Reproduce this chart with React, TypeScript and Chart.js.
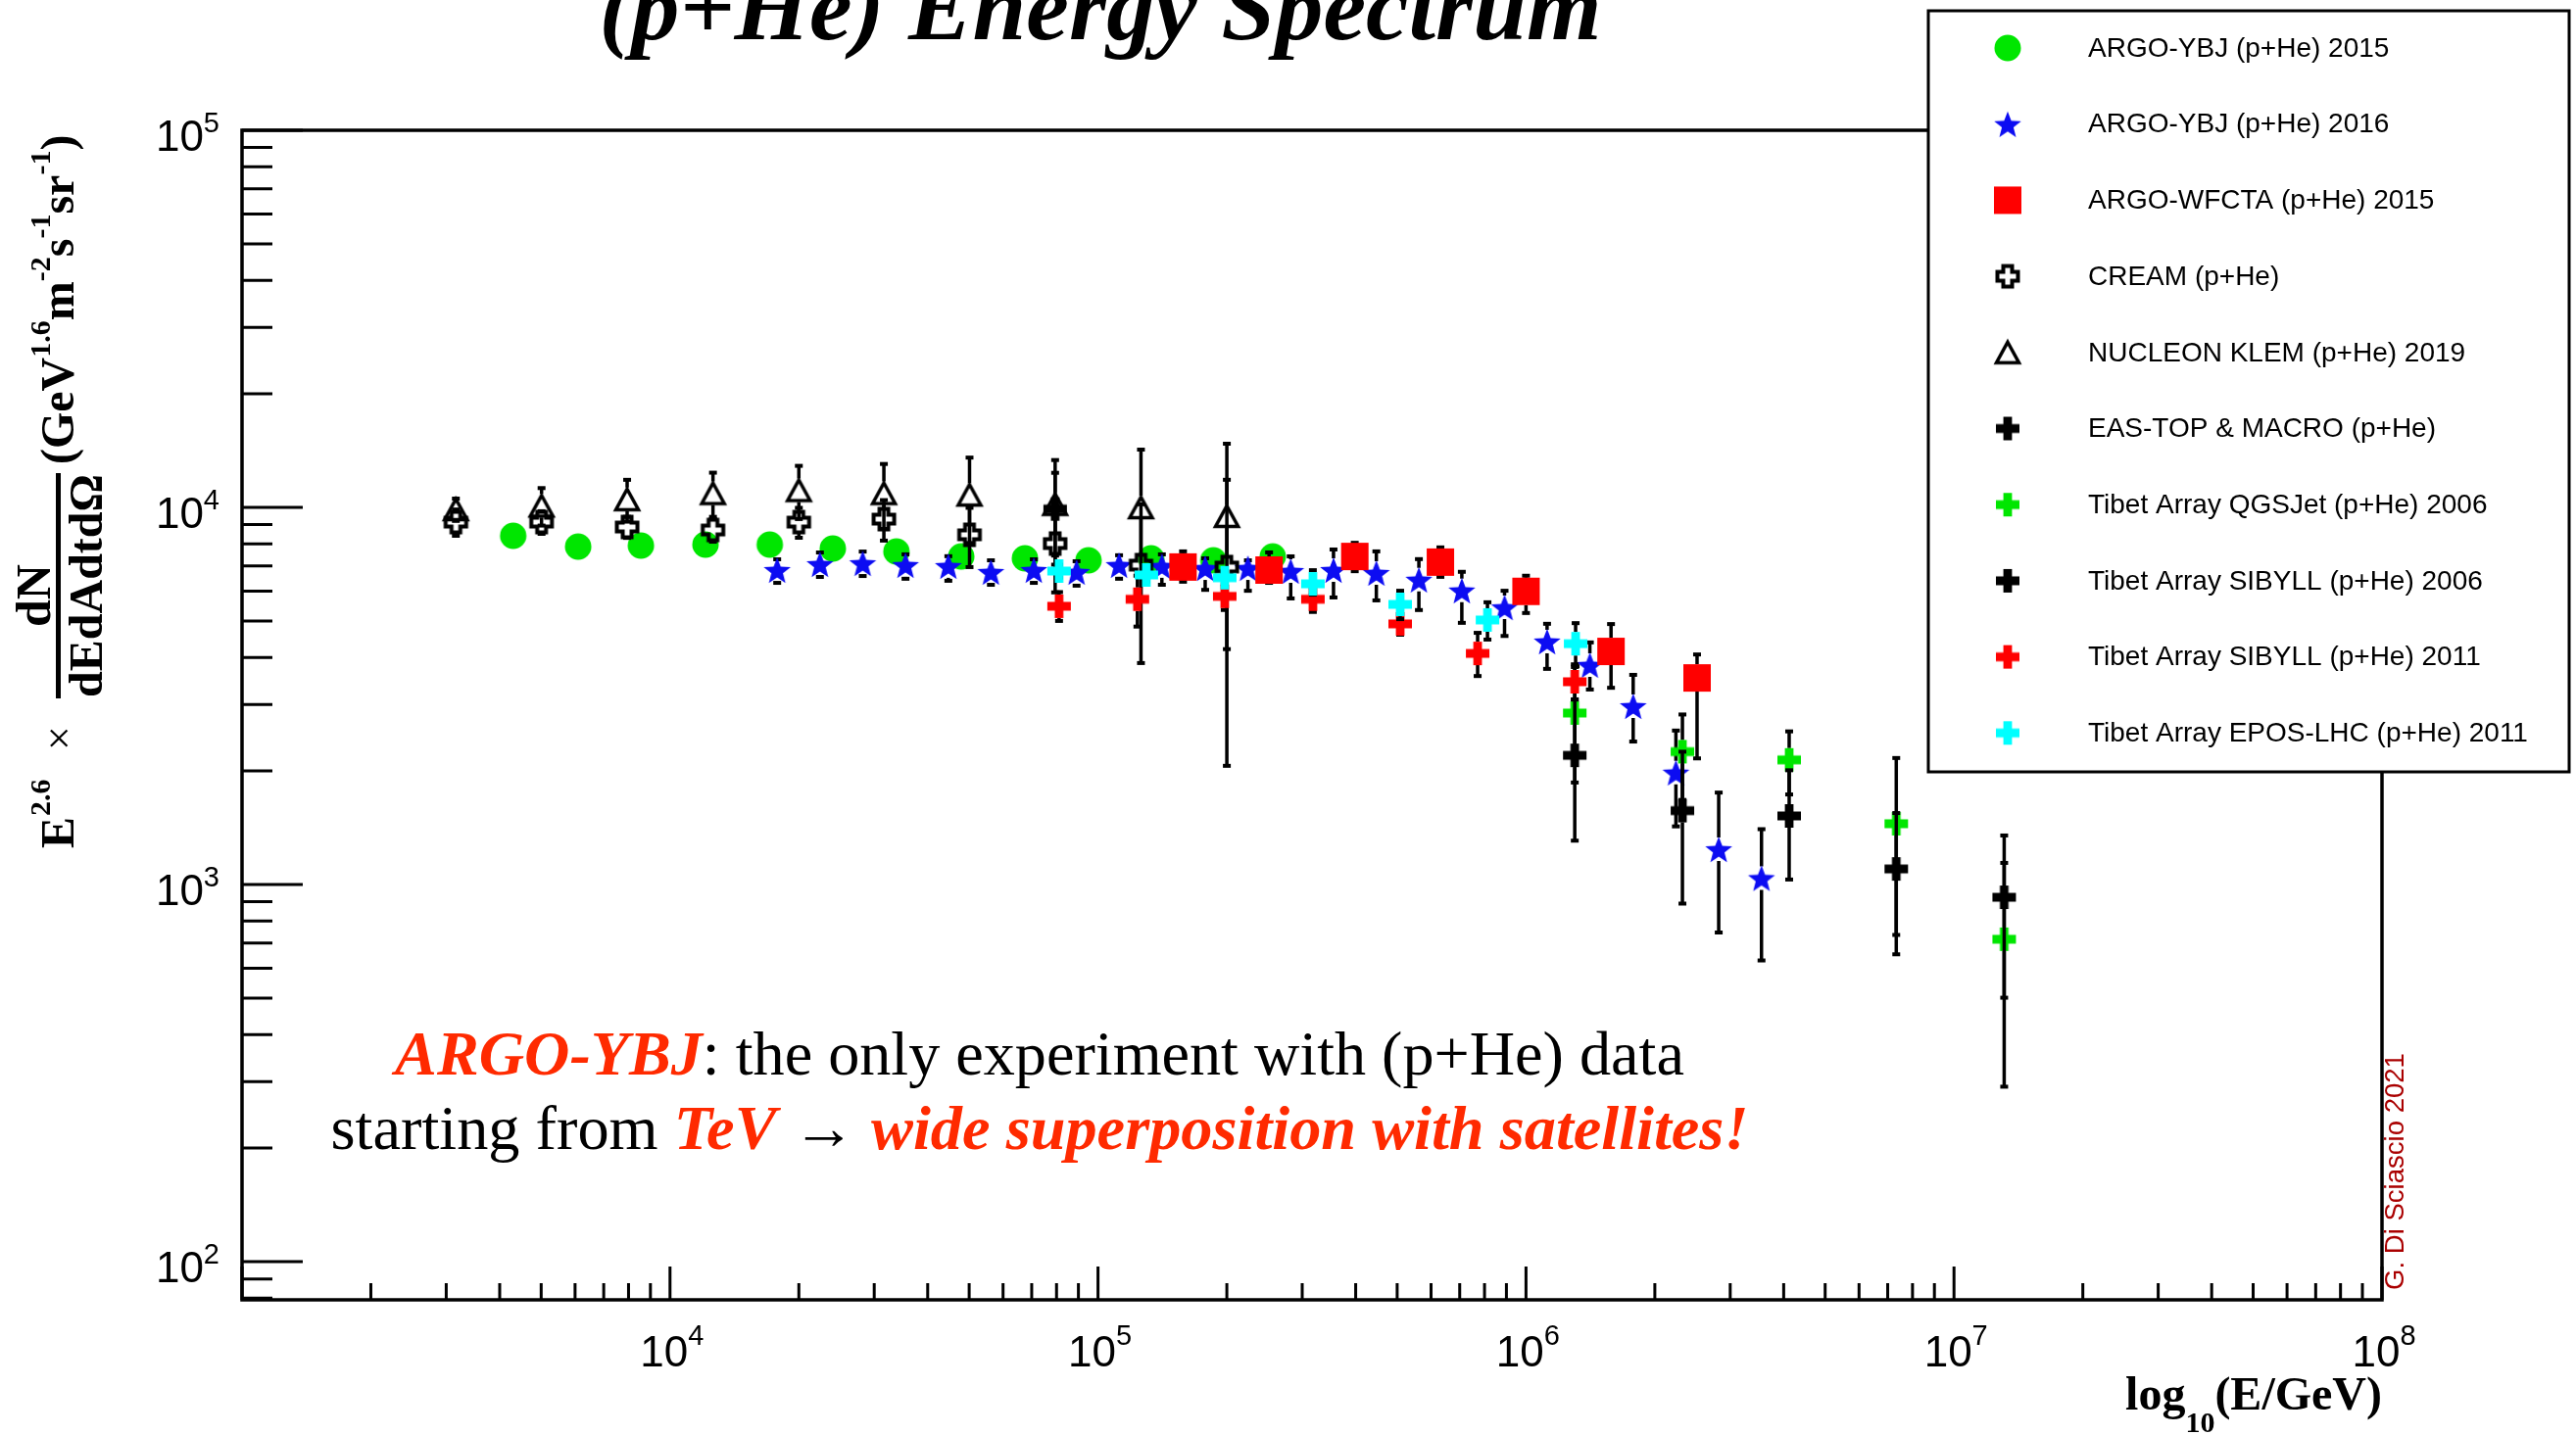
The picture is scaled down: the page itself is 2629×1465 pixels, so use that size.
import { useEffect, useRef } from 'react';
import { Chart, registerables } from 'chart.js';

Chart.register(...registerables);

const CANVAS_W = 2629;
const CANVAS_H = 1465;

// ---------------- axis ranges & ticks ----------------
const xRange = [1e3, 1e8];
const yRange = [79.2, 1e5];
const xMajorTicks = [1e3, 1e4, 1e5, 1e6, 1e7, 1e8];
const xLabelTicks = [1e4, 1e5, 1e6, 1e7, 1e8];
const xLabelExps = ['4', '5', '6', '7', '8'];
const yMajorTicks = [1e2, 1e3, 1e4, 1e5];
const yLabelExps = ['2', '3', '4', '5'];

// ---------------- data ----------------
// ARGO-YBJ (p+He) 2015
const argo2015Energy = [4300, 6100, 8550, 12100, 17100, 24000, 33800, 47900, 67500, 95000, 133000, 186000, 256000];
const argo2015Flux = [8410, 7870, 7920, 7970, 7970, 7780, 7640, 7410, 7330, 7240, 7330, 7240, 7410];
const argo2015Err = [250, 240, 240, 240, 240, 240, 240, 240, 260, 290, 330, 360, 400];

// ARGO-YBJ (p+He) 2016
const argo2016Energy = [17800, 22400, 28200, 35500, 44700, 56200, 70800, 89100, 112000, 141000, 178000, 224000,
  282000, 355000, 447000, 562000, 708000, 891000, 1120000, 1410000, 1780000, 2240000, 2820000, 3550000];
const argo2016Flux = [6820, 7070, 7110, 7030, 6990, 6740, 6820, 6740, 7030, 6990, 6900, 6900,
  6780, 6820, 6700, 6430, 6020, 5430, 4410, 3820, 2970, 1980, 1240, 1040];
const argo2016ErrLo = [512, 530, 533, 562, 601, 506, 512, 539, 562, 755, 856, 890,
  1044, 1050, 1032, 1087, 1078, 869, 679, 531, 576, 554, 494, 411];
const argo2016ErrHi = [464, 523, 526, 478, 433, 499, 464, 458, 436, 517, 428, 338,
  637, 914, 945, 862, 728, 581, 503, 565, 627, 580, 513, 362];

// ARGO-WFCTA (p+He) 2015
const wfctaEnergy = [158000, 251000, 398000, 631000, 1000000, 1580000, 2510000];
const wfctaFlux = [6950, 6820, 7410, 7160, 5990, 4150, 3530];
const wfctaErrLo = [598, 512, 637, 616, 743, 826, 1370];
const wfctaErrHi = [695, 777, 645, 673, 599, 755, 544];

// CREAM (p+He)
const creamEnergy = [3160, 5010, 7940, 12600, 20000, 31600, 50100, 79400, 126000, 200000];
const creamFlux = [9140, 9140, 8870, 8710, 9140, 9310, 8460, 8020, 7030, 6950];
const creamErr = [731, 631, 568, 601, 832, 1145, 1514, 2069, 3164, 4886];

// NUCLEON KLEM (p+He) 2019
const nucleonEnergy = [3160, 5010, 7940, 12600, 20000, 31600, 50100, 79400, 126000, 200000];
const nucleonFlux = [9880, 10100, 10500, 10900, 11100, 10900, 10800, 10200, 10000, 9480];
const nucleonErr = [672, 1151, 1334, 1461, 1787, 2136, 2754, 3152, 4230, 5271];

// EAS-TOP & MACRO (p+He)
const eastopEnergy = [79400];
const eastopFlux = [9900];
const eastopErr = [2450];

// Tibet Array 2006 (QGSJet / SIBYLL)
const tibet06Energy = [1300000, 2320000, 4120000, 7330000, 13100000];
const tibetQgsFlux = [2850, 2250, 2140, 1450, 716];
const tibetQgsErr = [986, 574, 407, 715, 425];
const tibetSib06Flux = [2200, 1570, 1520, 1100, 925];
const tibetSib06Err = [893, 680, 489, 447, 424];

// Tibet Array SIBYLL 2011
const tibetSib11Energy = [81100, 123600, 197700, 317700, 508200, 770900, 1300000];
const tibetSib11Flux = [5470, 5710, 5810, 5710, 4910, 4100, 3450];
const tibetSib11ErrLo = [470, 880, 465, 428, 314, 529, 352];
const tibetSib11ErrHi = [492, 880, 465, 428, 344, 549, 324];

// Tibet Array EPOS-LHC 2011
const tibetEposEnergy = [81100, 129700, 197700, 317700, 508200, 812800, 1306000];
const tibetEposFlux = [6780, 6620, 6510, 6270, 5530, 5030, 4350];
const tibetEposErrLo = [270, 265, 260, 401, 476, 568, 561];
const tibetEposErrHi = [270, 265, 260, 545, 481, 573, 583];

// ---------------- styles ----------------
const GREEN = '#00e600';
const BLUE = '#0c0cf2';
const RED = '#ff0000';
const CYAN = '#00ffff';
const BLACK = '#000000';
const TEXT_RED = '#ff2a00';

type MarkerKind = 'circle' | 'star' | 'square' | 'openCross' | 'openTriangle' | 'fullCross';

const MARKER_GAP: Record<MarkerKind, number> = {
  circle: 13.5, star: 12, square: 14, openCross: 12, openTriangle: 12, fullCross: 12,
};

function plusPath(ctx: CanvasRenderingContext2D, cx: number, cy: number, h: number, a: number) {
  const pts = [[-a, -h], [a, -h], [a, -a], [h, -a], [h, a], [a, a], [a, h], [-a, h], [-a, a], [-h, a], [-h, -a], [-a, -a]];
  ctx.beginPath();
  pts.forEach(([px, py], i) => (i ? ctx.lineTo(cx + px, cy + py) : ctx.moveTo(cx + px, cy + py)));
  ctx.closePath();
}

function makeMarker(kind: MarkerKind, color: string): HTMLCanvasElement {
  const size = 36;
  const c = size / 2;
  const cv = document.createElement('canvas');
  cv.width = size;
  cv.height = size;
  const ctx = cv.getContext('2d') as CanvasRenderingContext2D;
  ctx.fillStyle = color;
  ctx.strokeStyle = color;
  if (kind === 'circle') {
    ctx.beginPath();
    ctx.arc(c, c, 13.5, 0, Math.PI * 2);
    ctx.fill();
  } else if (kind === 'star') {
    ctx.beginPath();
    for (let k = 0; k < 10; k++) {
      const r = k % 2 === 0 ? 14.5 : 6.2;
      const ang = -Math.PI / 2 + (k * Math.PI) / 5;
      const px = c + r * Math.cos(ang);
      const py = c + 1.4 + r * Math.sin(ang);
      if (k === 0) ctx.moveTo(px, py);
      else ctx.lineTo(px, py);
    }
    ctx.closePath();
    ctx.fill();
  } else if (kind === 'square') {
    ctx.fillRect(c - 14, c - 14, 28, 28);
  } else if (kind === 'openCross') {
    plusPath(ctx, c, c, 10.5, 4.5);
    ctx.lineWidth = 4;
    ctx.lineJoin = 'miter';
    ctx.stroke();
  } else if (kind === 'openTriangle') {
    ctx.beginPath();
    ctx.moveTo(c, c - 10.5);
    ctx.lineTo(c + 11.5, c + 10.5);
    ctx.lineTo(c - 11.5, c + 10.5);
    ctx.closePath();
    ctx.lineWidth = 3.5;
    ctx.lineJoin = 'miter';
    ctx.miterLimit = 3;
    ctx.stroke();
  } else {
    plusPath(ctx, c, c, 12, 4.4);
    ctx.fill();
  }
  return cv;
}

interface Series {
  label: string;
  x: number[];
  y: number[];
  lo: number[];
  hi: number[];
  marker: MarkerKind;
  color: string;
}

const series: Series[] = [
  { label: 'ARGO-YBJ (p+He) 2015', x: argo2015Energy, y: argo2015Flux, lo: argo2015Err, hi: argo2015Err, marker: 'circle', color: GREEN },
  { label: 'ARGO-YBJ (p+He) 2016', x: argo2016Energy, y: argo2016Flux, lo: argo2016ErrLo, hi: argo2016ErrHi, marker: 'star', color: BLUE },
  { label: 'ARGO-WFCTA (p+He) 2015', x: wfctaEnergy, y: wfctaFlux, lo: wfctaErrLo, hi: wfctaErrHi, marker: 'square', color: RED },
  { label: 'CREAM (p+He)', x: creamEnergy, y: creamFlux, lo: creamErr, hi: creamErr, marker: 'openCross', color: BLACK },
  { label: 'NUCLEON KLEM (p+He) 2019', x: nucleonEnergy, y: nucleonFlux, lo: nucleonErr, hi: nucleonErr, marker: 'openTriangle', color: BLACK },
  { label: 'EAS-TOP & MACRO (p+He)', x: eastopEnergy, y: eastopFlux, lo: eastopErr, hi: eastopErr, marker: 'fullCross', color: BLACK },
  { label: 'Tibet Array QGSJet (p+He) 2006', x: tibet06Energy, y: tibetQgsFlux, lo: tibetQgsErr, hi: tibetQgsErr, marker: 'fullCross', color: GREEN },
  { label: 'Tibet Array SIBYLL (p+He) 2006', x: tibet06Energy, y: tibetSib06Flux, lo: tibetSib06Err, hi: tibetSib06Err, marker: 'fullCross', color: BLACK },
  { label: 'Tibet Array SIBYLL (p+He) 2011', x: tibetSib11Energy, y: tibetSib11Flux, lo: tibetSib11ErrLo, hi: tibetSib11ErrHi, marker: 'fullCross', color: RED },
  { label: 'Tibet Array EPOS-LHC (p+He) 2011', x: tibetEposEnergy, y: tibetEposFlux, lo: tibetEposErrLo, hi: tibetEposErrHi, marker: 'fullCross', color: CYAN },
];

const serifB = (px: number) => `bold ${px}px "Liberation Serif"`;
const sans = (px: number) => `${px}px "Liberation Sans"`;

interface Seg { text: string; italic?: boolean; bold?: boolean; color: string }

function drawRichLine(ctx: CanvasRenderingContext2D, segs: Seg[], cx: number, baseline: number, targetW: number) {
  const fontFor = (s: Seg, size: number) => `${s.italic ? 'italic ' : ''}${s.bold ? 'bold ' : ''}${size}px "Liberation Serif"`;
  const base = 60;
  let w = 0;
  for (const s of segs) {
    ctx.font = fontFor(s, base);
    w += ctx.measureText(s.text).width;
  }
  const size = (base * targetW) / w;
  let total = 0;
  const widths: number[] = [];
  for (const s of segs) {
    ctx.font = fontFor(s, size);
    const ww = ctx.measureText(s.text).width;
    widths.push(ww);
    total += ww;
  }
  let x = cx - total / 2;
  segs.forEach((s, i) => {
    ctx.font = fontFor(s, size);
    ctx.fillStyle = s.color;
    ctx.fillText(s.text, x, baseline);
    x += widths[i];
  });
}

function makePlugin(markers: HTMLCanvasElement[]) {
  return {
    id: 'rootStyle',
    beforeDatasetDraw(chart: any, args: any) {
      const s = series[args.index];
      if (!s) return;
      const ctx: CanvasRenderingContext2D = chart.ctx;
      const xs = chart.scales.x;
      const ys = chart.scales.y;
      const gap = MARKER_GAP[s.marker];
      ctx.save();
      ctx.strokeStyle = '#000';
      ctx.fillStyle = '#000';
      ctx.lineWidth = 3.5;
      for (let i = 0; i < s.x.length; i++) {
        const px = xs.getPixelForValue(s.x[i]);
        const py = ys.getPixelForValue(s.y[i]);
        const top = ys.getPixelForValue(s.y[i] + s.hi[i]);
        const lowVal = s.y[i] - s.lo[i];
        const bot = lowVal > 0 ? ys.getPixelForValue(lowVal) : chart.chartArea.bottom;
        ctx.beginPath();
        if (top < py - gap) {
          ctx.moveTo(px, top);
          ctx.lineTo(px, py - gap);
        }
        if (bot > py + gap) {
          ctx.moveTo(px, py + gap);
          ctx.lineTo(px, bot);
        }
        ctx.stroke();
        ctx.fillRect(px - 4, top - 2, 8, 4);
        ctx.fillRect(px - 4, bot - 2, 8, 4);
      }
      ctx.restore();
    },
    afterDraw(chart: any) {
      const ctx: CanvasRenderingContext2D = chart.ctx;
      const a = chart.chartArea;
      const xs = chart.scales.x;
      const ys = chart.scales.y;
      ctx.save();

      // ticks
      ctx.strokeStyle = '#000';
      ctx.lineWidth = 3;
      ctx.beginPath();
      for (let e = 3; e < 8; e++) {
        for (let m = 2; m <= 9; m++) {
          const px = xs.getPixelForValue(m * Math.pow(10, e));
          ctx.moveTo(px, a.bottom);
          ctx.lineTo(px, a.bottom - 17);
        }
      }
      for (const v of xMajorTicks) {
        const px = xs.getPixelForValue(v);
        ctx.moveTo(px, a.bottom);
        ctx.lineTo(px, a.bottom - 34);
      }
      for (let e = 1; e < 5; e++) {
        for (let m = 2; m <= 9; m++) {
          const v = m * Math.pow(10, e);
          if (v < yRange[0] || v > yRange[1]) continue;
          const py = ys.getPixelForValue(v);
          ctx.moveTo(a.left, py);
          ctx.lineTo(a.left + 31, py);
        }
      }
      for (const v of yMajorTicks) {
        const py = ys.getPixelForValue(v);
        ctx.moveTo(a.left, py);
        ctx.lineTo(a.left + 62, py);
      }
      ctx.stroke();

      // frame
      ctx.lineWidth = 3.5;
      ctx.strokeRect(a.left, a.top, a.right - a.left, a.bottom - a.top);

      // tick labels
      ctx.fillStyle = '#000';
      ctx.textAlign = 'left';
      ctx.textBaseline = 'alphabetic';
      xLabelTicks.forEach((v, i) => {
        const px = xs.getPixelForValue(v);
        ctx.font = sans(44);
        const wMain = ctx.measureText('10').width;
        ctx.font = sans(29);
        const wSup = ctx.measureText(xLabelExps[i]).width;
        const sx = px + 2 - (wMain + wSup) / 2;
        ctx.font = sans(44);
        ctx.fillText('10', sx, a.bottom + 68);
        ctx.font = sans(29);
        ctx.fillText(xLabelExps[i], sx + wMain, a.bottom + 46);
      });
      yMajorTicks.forEach((v, i) => {
        const py = ys.getPixelForValue(v);
        const endX = a.left - 23;
        ctx.font = sans(29);
        const wSup = ctx.measureText(yLabelExps[i]).width;
        ctx.fillText(yLabelExps[i], endX - wSup, py + 2);
        ctx.font = sans(44);
        const wMain = ctx.measureText('10').width;
        ctx.fillText('10', endX - wSup - wMain, py + 21);
      });

      // x axis title
      ctx.font = serifB(48);
      const wLog = ctx.measureText('log').width;
      const wRest = ctx.measureText('(E/GeV)').width;
      ctx.font = serifB(30);
      const w10 = ctx.measureText('10').width;
      const tx = a.right - (wLog + w10 + wRest);
      ctx.font = serifB(48);
      ctx.fillText('log', tx, 1439);
      ctx.fillText('(E/GeV)', tx + wLog + w10, 1439);
      ctx.font = serifB(30);
      ctx.fillText('10', tx + wLog, 1462);

      // y axis title (rotated)
      ctx.save();
      ctx.translate(75, 866);
      ctx.rotate(-Math.PI / 2);
      ctx.font = serifB(48);
      ctx.fillText('E', 0, 0);
      const wE = ctx.measureText('E').width;
      ctx.font = serifB(30);
      ctx.fillText('2.6', wE + 1, -24);
      ctx.font = '44px "Liberation Serif"';
      ctx.fillText('\u00d7', 100, 0);
      ctx.fillRect(153, -18, 230, 5);
      ctx.font = serifB(50);
      ctx.textAlign = 'center';
      ctx.fillText('dN', 258, -24);
      ctx.font = serifB(48);
      ctx.fillText('dEdAdtd\u03a9', 268, 29);
      ctx.textAlign = 'left';
      let ux = 392;
      const parts: [string, number, number][] = [
        ['(GeV', 48, 0], ['1.6', 30, -24], ['m', 48, 0], ['-2', 30, -24], ['s', 48, 0],
        ['-1', 30, -24], ['sr', 48, 0], ['-1', 30, -24], [')', 48, 0],
      ];
      for (const [t, sz, dy] of parts) {
        ctx.font = serifB(sz);
        ctx.fillText(t, ux, dy);
        ux += ctx.measureText(t).width;
      }
      ctx.restore();

      // title
      ctx.font = 'italic bold 100px "Liberation Serif"';
      const tw = ctx.measureText('(p+He) Energy Spectrum').width;
      const tSize = (100 * 1023) / tw;
      ctx.font = `italic bold ${tSize}px "Liberation Serif"`;
      ctx.textAlign = 'center';
      ctx.fillText('(p+He) Energy Spectrum', 1123, 40);
      ctx.textAlign = 'left';

      // annotation
      drawRichLine(ctx, [
        { text: 'ARGO-YBJ', italic: true, bold: true, color: TEXT_RED },
        { text: ': the only experiment with (p+He) data', color: '#000' },
      ], 1061, 1097, 1316);
      drawRichLine(ctx, [
        { text: 'starting from ', color: '#000' },
        { text: 'TeV', italic: true, bold: true, color: TEXT_RED },
        { text: ' \u2192 ', color: '#000' },
        { text: 'wide superposition with satellites!', italic: true, bold: true, color: TEXT_RED },
      ], 1061, 1173, 1447);

      // credit
      ctx.save();
      ctx.translate(a.right + 22, 1317);
      ctx.rotate(-Math.PI / 2);
      ctx.font = sans(27);
      const cw = ctx.measureText('G. Di Sciascio 2021').width;
      ctx.font = sans((27 * 242) / cw);
      ctx.fillStyle = '#aa0000';
      ctx.fillText('G. Di Sciascio 2021', 0, 0);
      ctx.restore();

      // legend
      const lx = 1968, ly = 11, lw = 654, lh = 777;
      ctx.fillStyle = '#ffffff';
      ctx.fillRect(lx, ly, lw, lh);
      ctx.strokeStyle = '#000';
      ctx.lineWidth = 3;
      ctx.strokeRect(lx, ly, lw, lh);
      ctx.font = sans(28);
      ctx.textBaseline = 'middle';
      ctx.fillStyle = '#000';
      chart.data.datasets.forEach((ds: any, i: number) => {
        const cy = 49 + i * 77.7;
        const mk = markers[i];
        ctx.drawImage(mk, 2049 - mk.width / 2, cy - mk.height / 2);
        ctx.fillText(ds.label, 2131, cy + 1);
      });
      ctx.restore();
    },
  };
}

export default function App() {
  const ref = useRef<HTMLCanvasElement>(null);
  useEffect(() => {
    const canvas = ref.current;
    if (!canvas) return;
    const markers = series.map((s) => makeMarker(s.marker, s.color));
    const n = series.length;
    const chart = new Chart(canvas, {
      type: 'scatter',
      data: {
        datasets: series.map((s, i) => ({
          label: s.label,
          data: s.x.map((xv, k) => ({ x: xv, y: s.y[k] })),
          pointStyle: markers[i] as any,
          pointRadius: 12,
          pointHoverRadius: 12,
          showLine: false,
          order: n - i,
        })),
      },
      options: {
        animation: false,
        responsive: false,
        devicePixelRatio: 1,
        layout: { padding: { left: 247, right: CANVAS_W - 2431, top: 133, bottom: CANVAS_H - 1327 } },
        scales: {
          x: { type: 'logarithmic', min: xRange[0], max: xRange[1], display: false, bounds: 'data' },
          y: { type: 'logarithmic', min: yRange[0], max: yRange[1], display: false, bounds: 'data' },
        },
        plugins: { legend: { display: false }, tooltip: { enabled: false } },
        events: [],
      },
      plugins: [makePlugin(markers)],
    } as any);
    return () => chart.destroy();
  }, []);
  return (
    <div style={{ position: 'absolute', left: 0, top: 0, width: CANVAS_W, height: CANVAS_H, background: '#fff' }}>
      <canvas ref={ref} width={CANVAS_W} height={CANVAS_H} style={{ display: 'block', width: CANVAS_W, height: CANVAS_H }} />
    </div>
  );
}
